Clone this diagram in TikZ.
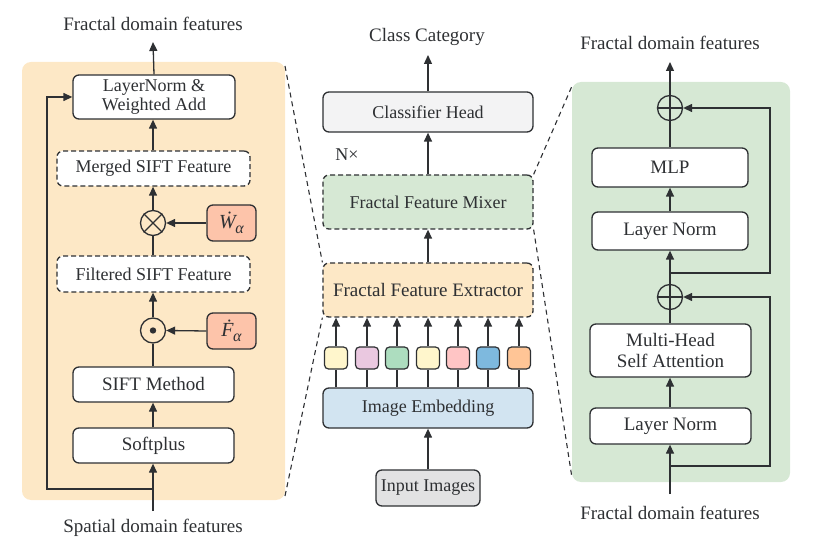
\documentclass[tikz,border=0pt]{standalone}
\usepackage{fontspec}
\setmainfont{Liberation Serif}
\usetikzlibrary{arrows.meta}
\definecolor{linec}{HTML}{2E3033}
\definecolor{orangebg}{HTML}{FDE8C6}
\definecolor{greenbg}{HTML}{D6E8D4}
\definecolor{salmon}{HTML}{FDC4AA}
\definecolor{greyhead}{HTML}{F3F3F4}
\definecolor{greyin}{HTML}{E2E2E3}
\definecolor{blueemb}{HTML}{D2E4F1}
\definecolor{sqA}{HTML}{FFF6CC}
\definecolor{sqB}{HTML}{EAC8E0}
\definecolor{sqC}{HTML}{ADDDBF}
\definecolor{sqD}{HTML}{FFC5C5}
\definecolor{sqE}{HTML}{7EB9DE}
\definecolor{sqF}{HTML}{FFC596}
\newcommand{\dotsym}[1]{{\fontsize{20}{22}\selectfont\itshape \.{#1}}\kern-0.5pt\raisebox{-4.5pt}{\fontsize{16}{18}\selectfont\itshape α}}
\tikzset{
  box/.style={draw=linec, line width=1.3pt, rounded corners=6pt, fill=white, align=center, inner sep=0pt, font=\fontsize{18}{21}\selectfont, text=linec},
  dbox/.style={box, dashed, dash pattern=on 5pt off 3pt},
  sq/.style={draw=linec, line width=1.2pt, rounded corners=4pt, minimum width=23pt, minimum height=22pt, inner sep=0pt},
  opc/.style={circle, draw=linec, line width=1.3pt, minimum size=25pt, inner sep=0pt},
  arr/.style={line width=1.3pt, draw=linec, -{Triangle[length=9pt,width=8pt]}},
  ln/.style={line width=1.3pt, draw=linec},
  lbl/.style={font=\fontsize{19}{22}\selectfont, text=linec, inner sep=0pt},
  conn/.style={line width=1.1pt, draw=linec, dash pattern=on 5pt off 4pt}
}
\begin{document}
\begin{tikzpicture}[x=1pt,y=-1pt]
\useasboundingbox (0,0) rectangle (820,540);
% panels
\fill[orangebg, rounded corners=9pt] (22,62) rectangle (285,500);
\fill[greenbg, rounded corners=9pt] (572,82) rectangle (790,482);
\coordinate (lpTR) at (285,66);
\coordinate (lpBR) at (285,496);
\coordinate (rpTL) at (572,86);
\coordinate (rpBL) at (572,478);

% ---------- left panel ----------
\node[lbl] (ltop) at (153,24) {Fractal domain features};
\node[box, minimum width=162pt, minimum height=44pt] (lnwa) at (154,97) {LayerNorm \&\\[-2pt]Weighted Add};
\node[dbox, minimum width=193pt, minimum height=35pt] (merged) at (153.5,168.5) {Merged SIFT Feature};
\node[opc] (otm) at (153,223) {};
\draw[ln] (otm.north east) -- (otm.south west) (otm.north west) -- (otm.south east);
\node[box, fill=salmon, minimum width=49pt, minimum height=36pt] (wa) at (231.5,223) {\dotsym{W}};
\node[dbox, minimum width=193pt, minimum height=36pt] (filt) at (153.5,274) {Filtered SIFT Feature};
\node[opc] (odt) at (153,330.5) {};
\fill[linec] (odt.center) circle (3.2pt);
\node[box, fill=salmon, minimum width=49pt, minimum height=36pt] (fa) at (231.5,331) {\dotsym{F}};
\node[box, minimum width=161pt, minimum height=35pt, font=\fontsize{19}{22}\selectfont] (sift) at (153.5,384.5) {SIFT Method};
\node[box, minimum width=161pt, minimum height=35pt, font=\fontsize{19}{22}\selectfont] (soft) at (153.5,445.5) {Softplus};
\node[lbl] (lbot) at (153,528) {Spatial domain features};
\coordinate (lin) at (153,511);
\coordinate (lsplit) at (153,489);

\draw[arr] (lnwa.north) -- (153,42);
\draw[arr] (merged.north -| 153,0) -- (lnwa.south -| 153,0);
\draw[arr] (otm.north) -- (merged.south -| otm);
\draw[ln] (filt.north -| otm) -- (otm.south);
\draw[arr] (wa.west) -- (otm.east);
\draw[arr] (odt.north) -- (filt.south -| odt);
\draw[ln] (sift.north -| odt) -- (odt.south);
\draw[arr] (fa.west) -- (odt.east);
\draw[arr] (soft.north -| 153,0) -- (sift.south -| 153,0);
\draw[arr] (lin) -- (soft.south -| lin);
\draw[arr] (lsplit) -- (47,489) -- (47,97) -- (lnwa.west);

% ---------- centre ----------
\node[lbl] (ctop) at (427,37) {Class Category};
\node[box, fill=greyhead, minimum width=210pt, minimum height=40pt] (head) at (428,112) {Classifier Head};
\node[lbl, font=\fontsize{18}{21}\selectfont] (nx) at (347,155) {N×};
\node[dbox, fill=greenbg, minimum width=210pt, minimum height=54pt] (mixer) at (428,202) {Fractal Feature Mixer};
\node[dbox, fill=orangebg, minimum width=210pt, minimum height=54pt, font=\fontsize{19}{22}\selectfont] (extr) at (428,290) {Fractal Feature Extractor};
\node[box, fill=blueemb, minimum width=210pt, minimum height=40pt] (emb) at (428,408) {Image Embedding};
\node[box, fill=greyin, minimum width=104pt, minimum height=36pt] (inp) at (428,488) {Input Images};

\draw[arr] (head.north) -- (428,55);
\draw[arr] (mixer.north) -- (head.south);
\draw[arr] (extr.north) -- (mixer.south);
\draw[arr] (inp.north) -- (emb.south);
\foreach \i/\x/\c in {1/336/sqA,2/367/sqB,3/397/sqC,4/428/sqA,5/458/sqD,6/488/sqE,7/519/sqF}{
  \node[sq, fill=\c] (s\i) at (\x,358) {};
  \draw[ln] (emb.north -| s\i) -- (s\i.south);
  \draw[arr] (s\i.north) -- (extr.south -| s\i);
}

% dashed zoom connectors
\draw[conn] (lpTR) -- (extr.north west);
\draw[conn] (lpBR) -- (extr.south west);
\draw[conn] (mixer.north east) -- (rpTL);
\draw[conn] (mixer.south east) -- (rpBL);

% ---------- right panel ----------
\node[lbl] (rtop) at (670,43) {Fractal domain features};
\node[opc] (op1) at (670,108) {};
\draw[ln] (op1.north) -- (op1.south) (op1.west) -- (op1.east);
\node[box, minimum width=156pt, minimum height=39pt, font=\fontsize{19}{22}\selectfont] (mlp) at (670,167.5) {MLP};
\node[box, minimum width=156pt, minimum height=38pt, font=\fontsize{19}{22}\selectfont] (ln1) at (670,231) {Layer Norm};
\node[opc] (op2) at (670,297) {};
\draw[ln] (op2.north) -- (op2.south) (op2.west) -- (op2.east);
\node[box, minimum width=161pt, minimum height=53pt, font=\fontsize{19}{22}\selectfont] (mhsa) at (670.5,350.5) {Multi-Head\\[-1pt]Self Attention};
\node[box, minimum width=161pt, minimum height=36pt, font=\fontsize{19}{22}\selectfont] (ln2) at (670.5,426) {Layer Norm};
\node[lbl] (rbot) at (670,513) {Fractal domain features};
\coordinate (rin) at (670,494);
\coordinate (rs2) at (670,466);
\coordinate (rs1) at (670,273);

\draw[arr] (op1.north) -- (670,62);
\draw[ln] (mlp.north -| op1) -- (op1.south);
\draw[arr] (ln1.north -| 670,0) -- (mlp.south -| 670,0);
\draw[arr] (op2.north) -- (ln1.south -| op2);
\draw[arr] (rs1) -- (770,273) -- (770,108) -- (op1.east);
\draw[ln] (mhsa.north -| op2) -- (op2.south);
\draw[arr] (ln2.north -| 670,0) -- (mhsa.south -| 670,0);
\draw[arr] (rin) -- (ln2.south -| rin);
\draw[arr] (rs2) -- (770,466) -- (770,297) -- (op2.east);
\end{tikzpicture}
\end{document}
